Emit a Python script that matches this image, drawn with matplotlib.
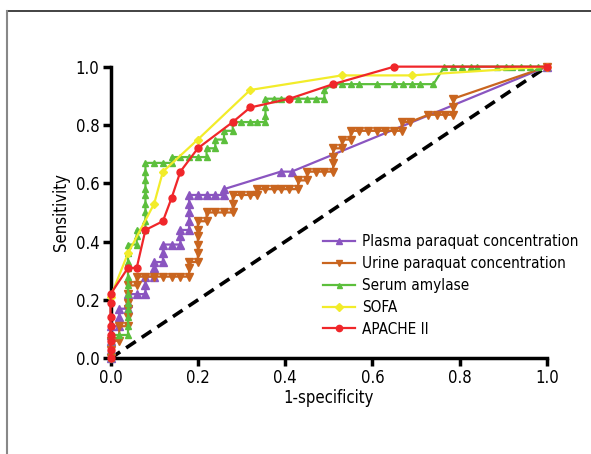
import matplotlib
matplotlib.use("Agg")
import matplotlib.pyplot as plt
from matplotlib.lines import Line2D

plt.rcParams['font.family'] = ['DejaVu Sans']
plt.rcParams['font.stretch'] = 'condensed'

# ---- data ----
plasma_fpr = [0, 0, 0, 0, 0, 0.02, 0.02, 0.02, 0.04, 0.04, 0.04, 0.06, 0.08, 0.08, 0.08,
              0.10, 0.10, 0.10, 0.12, 0.12, 0.12, 0.14, 0.16, 0.16, 0.16, 0.18, 0.18, 0.18,
              0.18, 0.18, 0.20, 0.22, 0.24, 0.26, 0.26, 0.39, 0.415, 1.0]
plasma_tpr = [0, 0.03, 0.06, 0.08, 0.11, 0.11, 0.14, 0.17, 0.17, 0.19, 0.22, 0.22, 0.22, 0.25, 0.28,
              0.28, 0.31, 0.33, 0.33, 0.36, 0.39, 0.39, 0.39, 0.42, 0.44, 0.44, 0.47, 0.50,
              0.53, 0.56, 0.56, 0.56, 0.56, 0.56, 0.58, 0.64, 0.64, 1.0]

urine_fpr = [0, 0, 0, 0.02, 0.02, 0.04, 0.04, 0.04, 0.04, 0.04, 0.04, 0.06, 0.06, 0.08, 0.10,
             0.12, 0.14, 0.16, 0.18, 0.18, 0.18, 0.20, 0.20, 0.20, 0.20, 0.20, 0.20, 0.22, 0.22,
             0.24, 0.26, 0.28, 0.28, 0.28, 0.30, 0.32, 0.335, 0.335, 0.355, 0.375, 0.39, 0.41,
             0.43, 0.43, 0.45, 0.45, 0.47, 0.49, 0.51, 0.51, 0.51, 0.51, 0.53, 0.53, 0.55, 0.55,
             0.57, 0.59, 0.61, 0.63, 0.65, 0.667, 0.667, 0.686, 0.728, 0.747, 0.766, 0.785,
             0.785, 0.785, 1.0]
urine_tpr = [0, 0.03, 0.06, 0.06, 0.11, 0.11, 0.14, 0.17, 0.19, 0.22, 0.25, 0.25, 0.28, 0.28, 0.28,
             0.28, 0.28, 0.28, 0.28, 0.31, 0.33, 0.33, 0.36, 0.39, 0.42, 0.44, 0.47, 0.47, 0.50,
             0.50, 0.50, 0.50, 0.53, 0.56, 0.56, 0.56, 0.56, 0.58, 0.58, 0.58, 0.58, 0.58,
             0.58, 0.61, 0.61, 0.64, 0.64, 0.64, 0.64, 0.67, 0.69, 0.72, 0.72, 0.75, 0.75, 0.78,
             0.78, 0.78, 0.78, 0.78, 0.78, 0.78, 0.81, 0.81, 0.835, 0.835, 0.835, 0.835,
             0.86, 0.89, 1.0]

amylase_fpr = [0, 0, 0, 0, 0.02, 0.04, 0.04, 0.04, 0.04, 0.04, 0.04, 0.04, 0.04, 0.04, 0.04,
               0.04, 0.04, 0.06, 0.06, 0.06, 0.08, 0.08, 0.08, 0.08, 0.08, 0.08, 0.08, 0.08,
               0.08, 0.10, 0.12, 0.14, 0.14, 0.16, 0.18, 0.20, 0.22, 0.22, 0.24, 0.24, 0.26,
               0.26, 0.28, 0.28, 0.30, 0.32, 0.335, 0.355, 0.355, 0.355, 0.355, 0.375, 0.39,
               0.43, 0.45, 0.47, 0.49, 0.49, 0.51, 0.53, 0.55, 0.57, 0.61, 0.65, 0.67, 0.69,
               0.71, 0.74, 0.765, 0.785, 0.805, 0.825, 0.84, 0.885, 0.905, 0.92, 0.94, 0.96,
               0.98, 1.0]
amylase_tpr = [0, 0.03, 0.06, 0.08, 0.08, 0.08, 0.11, 0.14, 0.17, 0.19, 0.22, 0.25, 0.28, 0.31, 0.33,
               0.36, 0.39, 0.39, 0.42, 0.44, 0.44, 0.47, 0.50, 0.53, 0.56, 0.58, 0.61, 0.64,
               0.67, 0.67, 0.67, 0.67, 0.69, 0.69, 0.69, 0.69, 0.69, 0.72, 0.72, 0.75, 0.75,
               0.78, 0.78, 0.81, 0.81, 0.81, 0.81, 0.81, 0.83, 0.86, 0.89, 0.89, 0.89,
               0.89, 0.89, 0.89, 0.89, 0.92, 0.94, 0.94, 0.94, 0.94, 0.94, 0.94, 0.94, 0.94,
               0.94, 0.94, 1.0, 1.0, 1.0, 1.0, 1.0, 1.0, 1.0, 1.0, 1.0, 1.0,
               1.0, 1.0]

sofa_fpr = [0, 0.04, 0.10, 0.12, 0.20, 0.32, 0.53, 0.69, 1.0]
sofa_tpr = [0.21, 0.36, 0.53, 0.64, 0.75, 0.92, 0.97, 0.97, 1.0]

apache_fpr = [0, 0, 0, 0, 0, 0, 0, 0, 0.04, 0.06, 0.08, 0.12, 0.14, 0.16, 0.20, 0.28, 0.32,
              0.41, 0.51, 0.65, 1.0]
apache_tpr = [0, 0.03, 0.06, 0.08, 0.11, 0.14, 0.19, 0.22, 0.31, 0.31, 0.44, 0.47, 0.55, 0.64,
              0.72, 0.81, 0.86, 0.89, 0.94, 1.0, 1.0]

labels = ["Plasma paraquat concentration", "Urine paraquat concentration",
          "Serum amylase", "SOFA", "APACHE II"]
colors = ["#8a55c0", "#c9651f", "#5cbf3c", "#f2ec2a", "#f0262a"]
markers = ["^", "v", "^", "D", "o"]
msizes = [5.5, 5.5, 4, 4.5, 5]

fig = plt.figure(figsize=(5.91, 4.54), dpi=100)
ax = fig.add_axes([0.187, 0.2108, 0.7385, 0.6424])

# diagonal reference line
ax.plot([0, 1], [0, 1], color="black", lw=2.6, ls=(0, (3.2, 2.0)), zorder=1)

series = [(plasma_fpr, plasma_tpr), (urine_fpr, urine_tpr), (amylase_fpr, amylase_tpr),
          (sofa_fpr, sofa_tpr), (apache_fpr, apache_tpr)]
for (fx, ty), lab, c, m, ms in zip(series, labels, colors, markers, msizes):
    ax.plot(fx, ty, color=c, lw=1.6, marker=m, ms=ms, mec=c, mfc=c,
            label=lab, clip_on=False, zorder=3)

ax.set_xlim(0, 1)
ax.set_ylim(0, 1)
ax.set_xticks([0, 0.2, 0.4, 0.6, 0.8, 1.0])
ax.set_yticks([0, 0.2, 0.4, 0.6, 0.8, 1.0])
ax.set_xticklabels(["0.0", "0.2", "0.4", "0.6", "0.8", "1.0"])
ax.set_yticklabels(["0.0", "0.2", "0.4", "0.6", "0.8", "1.0"])
for s in ["top", "right"]:
    ax.spines[s].set_visible(False)
for s in ["left", "bottom"]:
    ax.spines[s].set_linewidth(2.5)
ax.tick_params(direction="out", length=6, width=2.5, labelsize=12, pad=2)
ax.set_xlabel("1-specificity", fontsize=12, labelpad=1)
ax.set_ylabel("Sensitivity", fontsize=12, labelpad=4)

ax.legend(loc="upper left", bbox_to_anchor=(0.487, 0.425), frameon=False, fontsize=11,
          handlelength=2.1, handletextpad=0.45, labelspacing=0.45, borderpad=0,
          borderaxespad=0, markerscale=0.9)

# thin frame around the figure panel (top and left edges)
fig.add_artist(Line2D([7 / 591, 1], [1 - 11 / 454] * 2, transform=fig.transFigure,
                      color="#222222", lw=1.2))
fig.add_artist(Line2D([7 / 591] * 2, [0, 1 - 11 / 454], transform=fig.transFigure,
                      color="#888888", lw=1.5))

fig.savefig("out.png", dpi=100)
